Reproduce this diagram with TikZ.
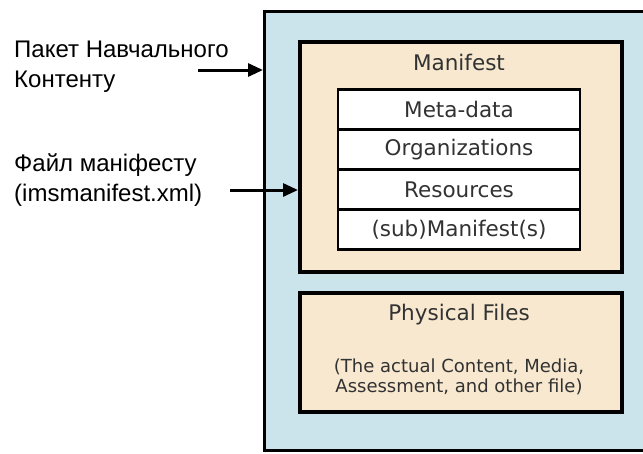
\documentclass[tikz,border=0pt]{standalone}
\usepackage{fontspec}
\setmainfont{Liberation Sans}
\newfontfamily\boxfont{DejaVu Sans}
\usetikzlibrary{arrows.meta}
\definecolor{pkgblue}{RGB}{203,228,236}
\definecolor{beige}{RGB}{247,232,207}
\definecolor{boxtext}{RGB}{50,50,50}
\tikzset{
  frame/.style={draw=black, rectangle, inner sep=0pt, anchor=north west},
  rowbox/.style={draw=black, line width=2.8pt, fill=white, rectangle, inner sep=0pt,
    minimum width=242pt, minimum height=40pt, font=\boxfont\fontsize{21.5}{24}\selectfont,
    text=boxtext},
  boxlabel/.style={font=\boxfont\fontsize{21.5}{24}\selectfont, text=boxtext, inner sep=0pt},
  sidelabel/.style={font=\fontsize{24}{30}\selectfont, align=left, anchor=base west, inner sep=0pt},
  feed/.style={line width=3pt, -{Triangle[length=15pt,width=13pt]}},
}
\begin{document}
\begin{tikzpicture}[x=1pt,y=-1pt]
\useasboundingbox (0,0) rectangle (643,453);
\fill[white] (0,0) rectangle (643,453);

% content package
\node[frame, fill=pkgblue, line width=3pt, minimum width=420pt, minimum height=439pt] (pkg) at (263,10) {};

% manifest block
\node[frame, fill=beige, line width=3.5pt, minimum width=322pt, minimum height=230pt] (man) at (298,40) {};
\node[boxlabel] (mantitle) at (459,62) {Manifest};

\node[rowbox] (meta) at (459,109.5) {Meta-data};
\node[rowbox] (org) at (459,149.5) {Organizations};
\node[rowbox] (res) at (459,189.5) {Resources};
\node[rowbox] (sub) at (459,229.5) {(sub)Manifest(s)};

% physical files block
\node[frame, fill=beige, line width=3.5pt, minimum width=322pt, minimum height=119pt] (phys) at (298,291) {};
\node[boxlabel] (phystitle) at (459,315) {Physical Files};
\node[boxlabel, align=center, font=\boxfont\fontsize{18}{20}\selectfont] (physnote) at (459,377)
  {(The actual Content, Media,\\Assessment, and other file)};

% side labels (anchored at the baseline of their last line)
\node[sidelabel] (pkglabel) at (14,87) {Пакет Навчального\\Контенту};
\node[sidelabel] (manlabel) at (14,201) {Файл маніфесту\\(imsmanifest.xml)};

\coordinate (pkgfrom) at (198,70);
\coordinate (manfrom) at (230,190);
\draw[feed] (pkgfrom) -- (pkgfrom -| pkg.west);
\draw[feed] (manfrom) -- (manfrom -| man.west);
\end{tikzpicture}
\end{document}
